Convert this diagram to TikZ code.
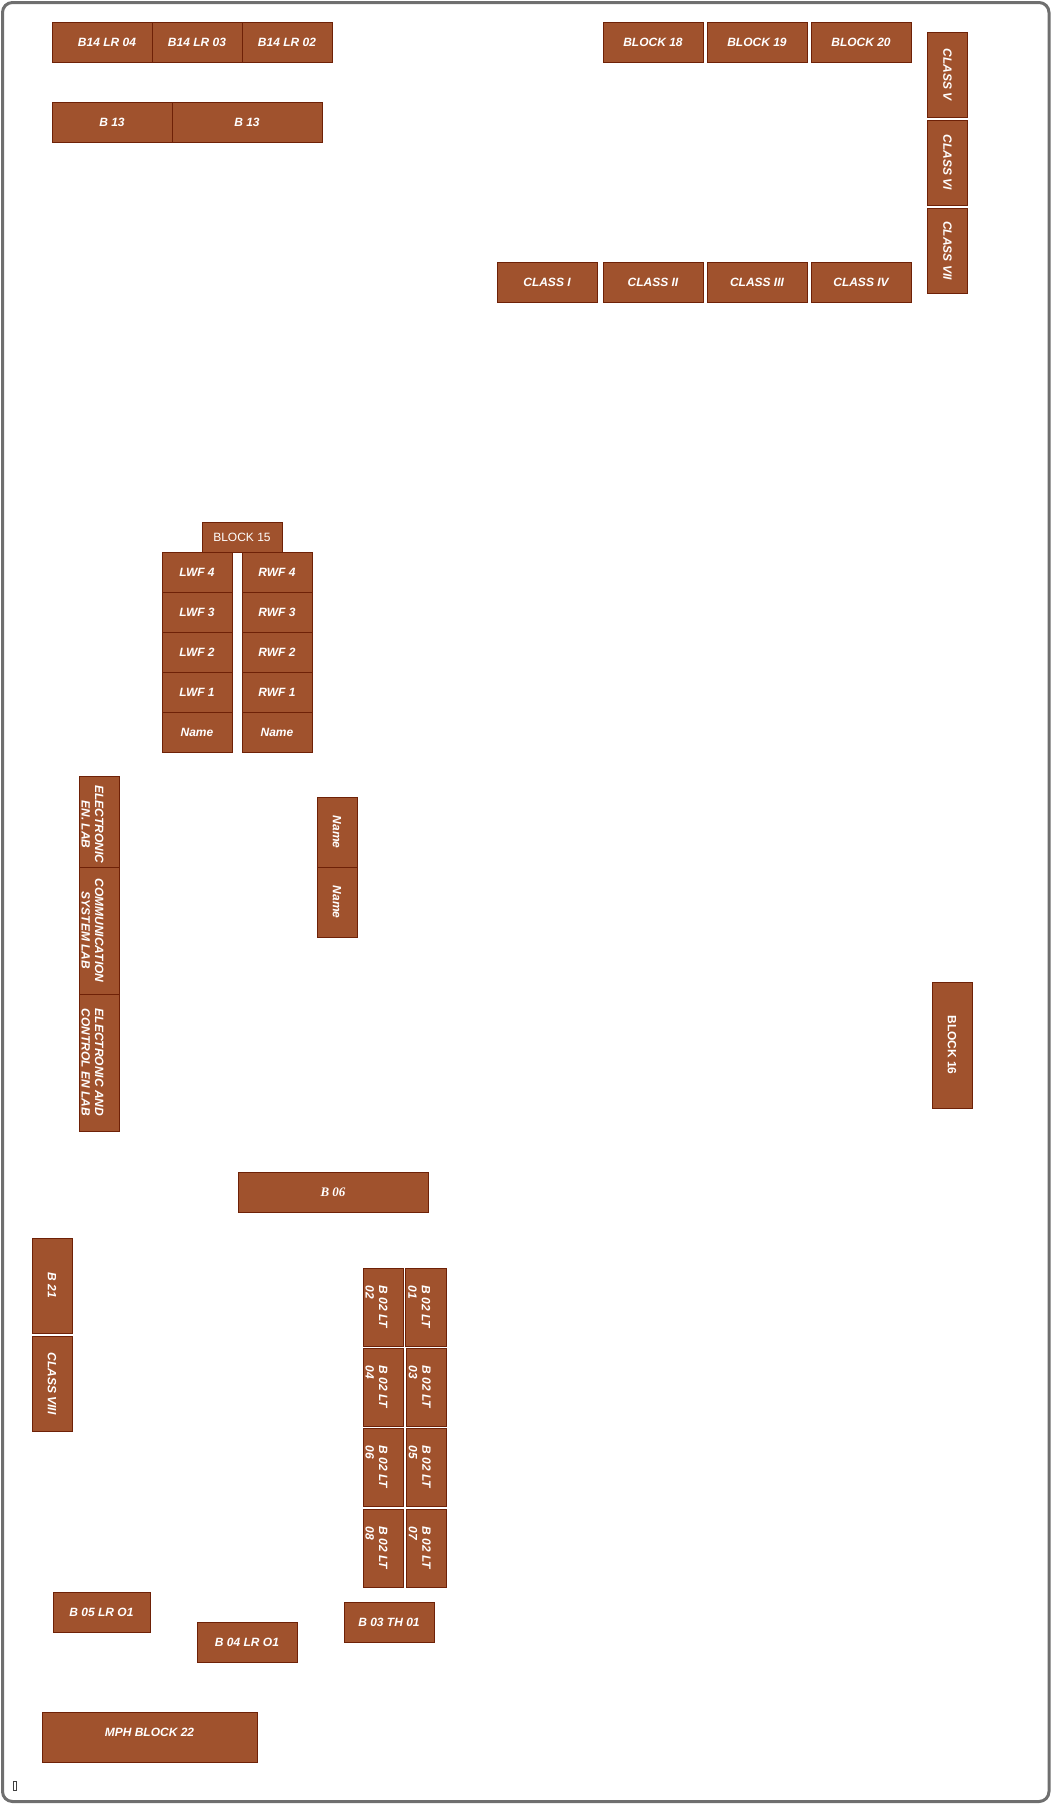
\documentclass[tikz,border=0pt]{standalone}
\usepackage{fontspec}
\setmainfont{Liberation Sans}
\newfontfamily\roomserif{Liberation Serif}
\definecolor{roomfill}{HTML}{A0522D}
\definecolor{roomedge}{HTML}{6E2107}
\definecolor{framegray}{HTML}{6F6F6F}
\newcommand{\mkroom}[7]{%
  \pgfmathsetmacro\mkcx{(#2+#4)/2}%
  \pgfmathsetmacro\mkcy{(#3+#5)/2}%
  \pgfmathsetmacro\mkw{#4-#2}%
  \pgfmathsetmacro\mkh{#5-#3}%
  \node[room,minimum width=\mkw pt,minimum height=\mkh pt,#6] (#1) at (\mkcx,\mkcy) {#7};}
\newcommand{\mkvroom}[7]{%
  \pgfmathsetmacro\mkcx{(#2+#4)/2}%
  \pgfmathsetmacro\mkcy{(#3+#5)/2}%
  \pgfmathsetmacro\mkw{#4-#2}%
  \pgfmathsetmacro\mkh{#5-#3}%
  \node[room,rotate=-90,minimum width=\mkh pt,minimum height=\mkw pt,#6] (#1) at (\mkcx,\mkcy) {#7};}
\begin{document}
\begin{tikzpicture}[x=1pt,y=-1pt,
  room/.style={draw=roomedge, fill=roomfill, line width=0.9pt, inner sep=0pt, text=white,
    font=\fontsize{12}{13.5}\selectfont\bfseries\itshape},
  roomtxt/.style={text=white, inner sep=0pt, font=\fontsize{12}{13.5}\selectfont\bfseries\itshape},
  outerframe/.style={draw=framegray, line width=3pt, rounded corners=10pt}]
\useasboundingbox (0,0) rectangle (1054,1805);
\draw[outerframe] (2.5,2.5) rectangle (1049,1801.5);

% top left
\mkroom{b14a}{52}{22}{152}{62}{execute at begin node=\hspace*{10pt}}{B14 LR 04}
\mkroom{b14b}{152}{22}{242}{62}{}{B14 LR 03}
\mkroom{b14c}{242}{22}{332}{62}{}{B14 LR 02}
\mkroom{b13a}{52}{102}{172}{142}{}{B 13}
\mkroom{b13b}{172}{102}{322}{142}{}{B 13}

% top right
\mkroom{blk18}{603}{22}{703}{62}{}{BLOCK 18}
\mkroom{blk19}{707}{22}{807}{62}{}{BLOCK 19}
\mkroom{blk20}{811}{22}{911}{62}{}{BLOCK 20}
\mkvroom{cls5}{927.5}{32}{967.5}{117}{}{CLASS V}
\mkvroom{cls6}{927.5}{120}{967.5}{205}{}{CLASS VI}
\mkvroom{cls7}{927.5}{208}{967.5}{293}{}{CLASS VII}
\mkroom{cls1}{497}{262}{597}{302}{}{CLASS I}
\mkroom{cls2}{603}{262}{703}{302}{}{CLASS II}
\mkroom{cls3}{707}{262}{807}{302}{}{CLASS III}
\mkroom{cls4}{811}{262}{911}{302}{}{CLASS IV}

% block 15
\mkroom{blk15}{202}{522}{282}{552}{font=\fontsize{12}{14}\selectfont}{BLOCK 15}
\mkroom{lwf4}{162}{552}{232}{592}{}{LWF 4}
\mkroom{lwf3}{162}{592}{232}{632}{}{LWF 3}
\mkroom{lwf2}{162}{632}{232}{672}{}{LWF 2}
\mkroom{lwf1}{162}{672}{232}{712}{}{LWF 1}
\mkroom{lwfn}{162}{712}{232}{752}{}{Name}
\mkroom{rwf4}{242}{552}{312}{592}{}{RWF 4}
\mkroom{rwf3}{242}{592}{312}{632}{}{RWF 3}
\mkroom{rwf2}{242}{632}{312}{672}{}{RWF 2}
\mkroom{rwf1}{242}{672}{312}{712}{}{RWF 1}
\mkroom{rwfn}{242}{712}{312}{752}{}{Name}

% labs
\mkroom{elec1}{79}{776}{119}{867}{}{}
\mkroom{comm}{79}{867}{119}{994}{}{}
\mkroom{elec2}{79}{994}{119}{1131}{}{}
\node[roomtxt,rotate=-90,align=center] (elec1t) at ([xshift=-6.5pt,yshift=-3pt]elec1.center) {ELECTRONIC\\EN. LAB};
\node[roomtxt,rotate=-90,align=center] (commt) at ([xshift=-6.5pt]comm.center) {COMMUNICATION\\SYSTEM LAB};
\node[roomtxt,rotate=-90,align=center] (elec2t) at ([xshift=-6.5pt]elec2.center) {ELECTRONIC AND\\CONTROL EN LAB};

\mkvroom{name1}{317}{797}{357}{867}{}{Name}
\mkvroom{name2}{317}{867}{357}{937}{}{Name}

\mkvroom{blk16}{932}{982}{972}{1108}{font=\fontsize{12}{13.5}\selectfont\bfseries}{BLOCK 16}

\mkroom{b06}{238}{1172}{428}{1212}{font=\fontsize{13}{15}\selectfont\roomserif\bfseries\itshape}{B 06}

\mkvroom{b21}{32}{1238}{72}{1333}{}{B 21}
\mkvroom{cls8}{32}{1336}{72}{1431}{}{CLASS VIII}

% B 02 LT grid
\mkroom{lt2}{363}{1268}{403}{1346}{}{}
\mkroom{lt1}{405.5}{1268}{446}{1346}{}{}
\mkroom{lt4}{363}{1348}{403}{1426}{}{}
\mkroom{lt3}{406}{1348}{446.5}{1426}{}{}
\mkroom{lt6}{363}{1428}{403}{1506}{}{}
\mkroom{lt5}{406}{1428}{446.5}{1506}{}{}
\mkroom{lt8}{363}{1509}{403}{1587}{}{}
\mkroom{lt7}{406}{1509}{446.5}{1587}{}{}
\node[roomtxt,rotate=-90,align=left] (lt2t) at ([xshift=-6.5pt]lt2.center) {B 02 LT\\02};
\node[roomtxt,rotate=-90,align=left] (lt1t) at ([xshift=-6.5pt]lt1.center) {B 02 LT\\01};
\node[roomtxt,rotate=-90,align=left] (lt4t) at ([xshift=-6.5pt]lt4.center) {B 02 LT\\04};
\node[roomtxt,rotate=-90,align=left] (lt3t) at ([xshift=-6.5pt]lt3.center) {B 02 LT\\03};
\node[roomtxt,rotate=-90,align=left] (lt6t) at ([xshift=-6.5pt]lt6.center) {B 02 LT\\06};
\node[roomtxt,rotate=-90,align=left] (lt5t) at ([xshift=-6.5pt]lt5.center) {B 02 LT\\05};
\node[roomtxt,rotate=-90,align=left] (lt8t) at ([xshift=-6.5pt]lt8.center) {B 02 LT\\08};
\node[roomtxt,rotate=-90,align=left] (lt7t) at ([xshift=-6.5pt]lt7.center) {B 02 LT\\07};

% bottom
\mkroom{b05}{53}{1592}{150}{1632}{}{B 05 LR O1}
\mkroom{b04}{197}{1622}{297}{1662}{}{B 04 LR O1}
\mkroom{b03}{344}{1602}{434}{1642}{}{B 03 TH 01}
\mkroom{mph}{42}{1712}{257}{1762}{}{}
\node[roomtxt] (mpht) at ([yshift=5pt]mph.center) {MPH BLOCK 22};

\node[draw=black!75, line width=0.6pt, minimum width=3.5pt, minimum height=9pt, inner sep=0pt] (glyph) at (14.7,1785.5) {};
\end{tikzpicture}
\end{document}
